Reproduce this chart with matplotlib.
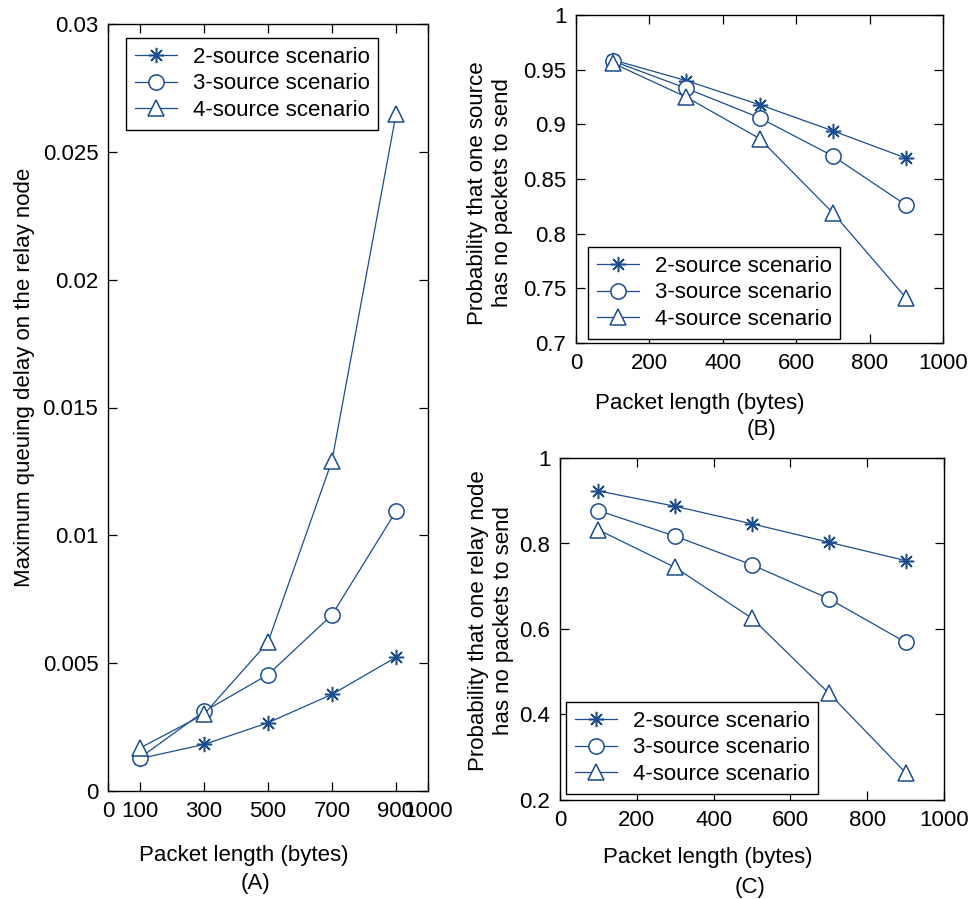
import numpy as np
import matplotlib
matplotlib.use("Agg")
import matplotlib.pyplot as plt

plt.rcParams['font.family'] = ['Liberation Sans', 'DejaVu Sans']

# packet lengths (bytes)
lengths = [100, 300, 500, 700, 900]
names = ['2-source scenario', '3-source scenario', '4-source scenario']

# (A) maximum queuing delay on the relay node
delay_2 = [0.00127, 0.00182, 0.00267, 0.00378, 0.00523]
delay_3 = [0.00130, 0.00311, 0.00455, 0.00689, 0.01094]
delay_4 = [0.00168, 0.00300, 0.00582, 0.01292, 0.02647]

# (B) probability that one source has no packets to send
src_2 = [0.959, 0.940, 0.918, 0.894, 0.869]
src_3 = [0.958, 0.933, 0.906, 0.871, 0.826]
src_4 = [0.956, 0.925, 0.887, 0.819, 0.741]

# (C) probability that one relay node has no packets to send
rel_2 = [0.923, 0.887, 0.846, 0.803, 0.760]
rel_3 = [0.877, 0.817, 0.750, 0.671, 0.569]
rel_4 = [0.832, 0.744, 0.625, 0.450, 0.264]

col = '#1a4d8f'
fs = 16
markers = [dict(marker=(8, 2, 0), markersize=11, markeredgewidth=1.1),
           dict(marker='o', markersize=11, markerfacecolor='white', markeredgewidth=1.1),
           dict(marker='^', markersize=12, markerfacecolor='white', markeredgewidth=1.1)]

W, H = 969, 899
fig = plt.figure(figsize=(W / 100, H / 100), dpi=100)


def px_axes(l, t, r, b):
    return fig.add_axes([l / W, 1 - b / H, (r - l) / W, (b - t) / H])


def style(ax):
    for s in ax.spines.values():
        s.set_linewidth(1.0)
    ax.tick_params(direction='in', top=True, right=True, length=6.5, width=0.9,
                   labelsize=fs, pad=7)


def draw(ax, series):
    for ys, name, mk in zip(series, names, markers):
        ax.plot(lengths, ys, color=col, linewidth=0.9, label=name, **mk)


def legend(ax, x, y):
    ax.legend(loc='upper left', bbox_to_anchor=(x / W, 1 - y / H),
              bbox_transform=fig.transFigure, fontsize=fs, fancybox=False,
              edgecolor='black', framealpha=1, borderaxespad=0,
              handlelength=1.9, labelspacing=0.25, borderpad=0.4,
              handletextpad=0.7).get_frame().set_linewidth(1.0)


# ----- (A)
axA = px_axes(108, 24, 428, 791)
draw(axA, [delay_2, delay_3, delay_4])
axA.set_xlim(0, 1000)
axA.set_ylim(0, 0.03)
axA.set_xticks([0, 100, 300, 500, 700, 900, 1000])
axA.set_xticklabels(['0', '100', '300', '500', '700', '900', '1000'])
axA.set_yticks([0, 0.005, 0.01, 0.015, 0.02, 0.025, 0.03])
axA.set_yticklabels(['0', '0.005', '0.01', '0.015', '0.02', '0.025', '0.03'])
style(axA)
legend(axA, 126, 38)
fig.text(25 / W, 1 - 377 / H, 'Maximum queuing delay on the relay node', rotation=90,
         ha='center', va='center', fontsize=fs)
fig.text(244 / W, 1 - 855 / H, 'Packet length (bytes)', ha='center', va='center', fontsize=fs)
fig.text(256 / W, 1 - 883 / H, '(A)', ha='center', va='center', fontsize=fs)

# ----- (B)
axB = px_axes(576, 15, 943, 343)
draw(axB, [src_2, src_3, src_4])
axB.set_xlim(0, 1000)
axB.set_ylim(0.7, 1.0)
axB.set_xticks([0, 200, 400, 600, 800, 1000])
axB.set_yticks([0.7, 0.75, 0.8, 0.85, 0.9, 0.95, 1.0])
axB.set_yticklabels(['0.7', '0.75', '0.8', '0.85', '0.9', '0.95', '1'])
style(axB)
legend(axB, 588, 247)
fig.text(490 / W, 1 - 193 / H, 'Probability that one source\nhas no packets to send',
         rotation=90, ha='center', va='center', fontsize=fs, multialignment='center')
fig.text(700 / W, 1 - 403 / H, 'Packet length (bytes)', ha='center', va='center', fontsize=fs)
fig.text(762 / W, 1 - 430 / H, '(B)', ha='center', va='center', fontsize=fs)

# ----- (C)
axC = px_axes(560, 458, 944, 800)
draw(axC, [rel_2, rel_3, rel_4])
axC.set_xlim(0, 1000)
axC.set_ylim(0.2, 1.0)
axC.set_xticks([0, 200, 400, 600, 800, 1000])
axC.set_yticks([0.2, 0.4, 0.6, 0.8, 1.0])
axC.set_yticklabels(['0.2', '0.4', '0.6', '0.8', '1'])
style(axC)
legend(axC, 566, 702)
fig.text(491 / W, 1 - 621 / H, 'Probability that one relay node\nhas no packets to send',
         rotation=90, ha='center', va='center', fontsize=fs, multialignment='center')
fig.text(708 / W, 1 - 858 / H, 'Packet length (bytes)', ha='center', va='center', fontsize=fs)
fig.text(750 / W, 1 - 888 / H, '(C)', ha='center', va='center', fontsize=fs)

fig.savefig('out.png', dpi=100, facecolor='white')
